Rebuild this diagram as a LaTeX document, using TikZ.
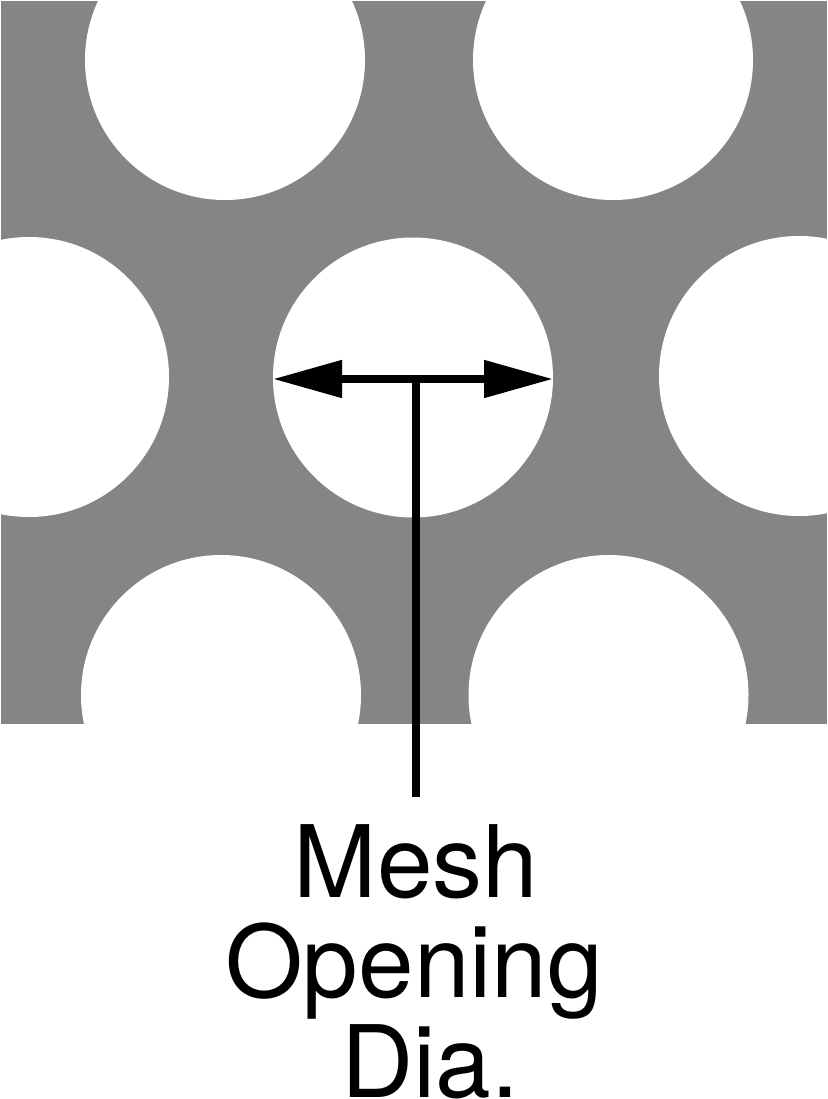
\documentclass[tikz,border=0pt]{standalone}
\usepackage{fontspec}
\setmainfont{TeX Gyre Heros}
\usetikzlibrary{arrows.meta}
\definecolor{meshgray}{RGB}{133,133,133}
\tikzset{
  hole/.style={circle, fill=white, inner sep=0pt, minimum size=280pt},
  dimline/.style={line width=8pt, black},
  label/.style={anchor=base, inner sep=0pt, font=\fontsize{100}{100}\selectfont}
}
\begin{document}
\begin{tikzpicture}[x=1pt, y=-1pt]
\useasboundingbox (0,0) rectangle (827,1099);
\fill[white] (0,0) rectangle (827,1099);
\begin{scope}
  \clip (0.5,1) rectangle (827,724);
  \fill[meshgray] (0.5,1) rectangle (827,724);
  \node[hole] (c1) at (225,60) {};
  \node[hole] (c2) at (613,60) {};
  \node[hole] (c3) at (29,377) {};
  \node[hole] (c4) at (413,377.5) {};
  \node[hole] (c5) at (799,376) {};
  \node[hole] (c6) at (221,695) {};
  \node[hole] (c7) at (608.5,695) {};
\end{scope}
\coordinate (tipL) at (273,379);
\coordinate (tipR) at (553,379);
\coordinate (stemtop) at (415.5,379);
\coordinate (stembot) at (415.5,797);
\draw[dimline, {Triangle[length=69pt,width=36pt]}-{Triangle[length=69pt,width=36pt]}] (tipL) -- (tipR);
\draw[dimline] (stemtop) -- (stembot);
\node[label] (t1) at (416,897) {Mesh};
\node[label] (t2) at (414,997) {Opening};
\node[label] (t3) at (430,1097) {Dia.};
\end{tikzpicture}
\end{document}
